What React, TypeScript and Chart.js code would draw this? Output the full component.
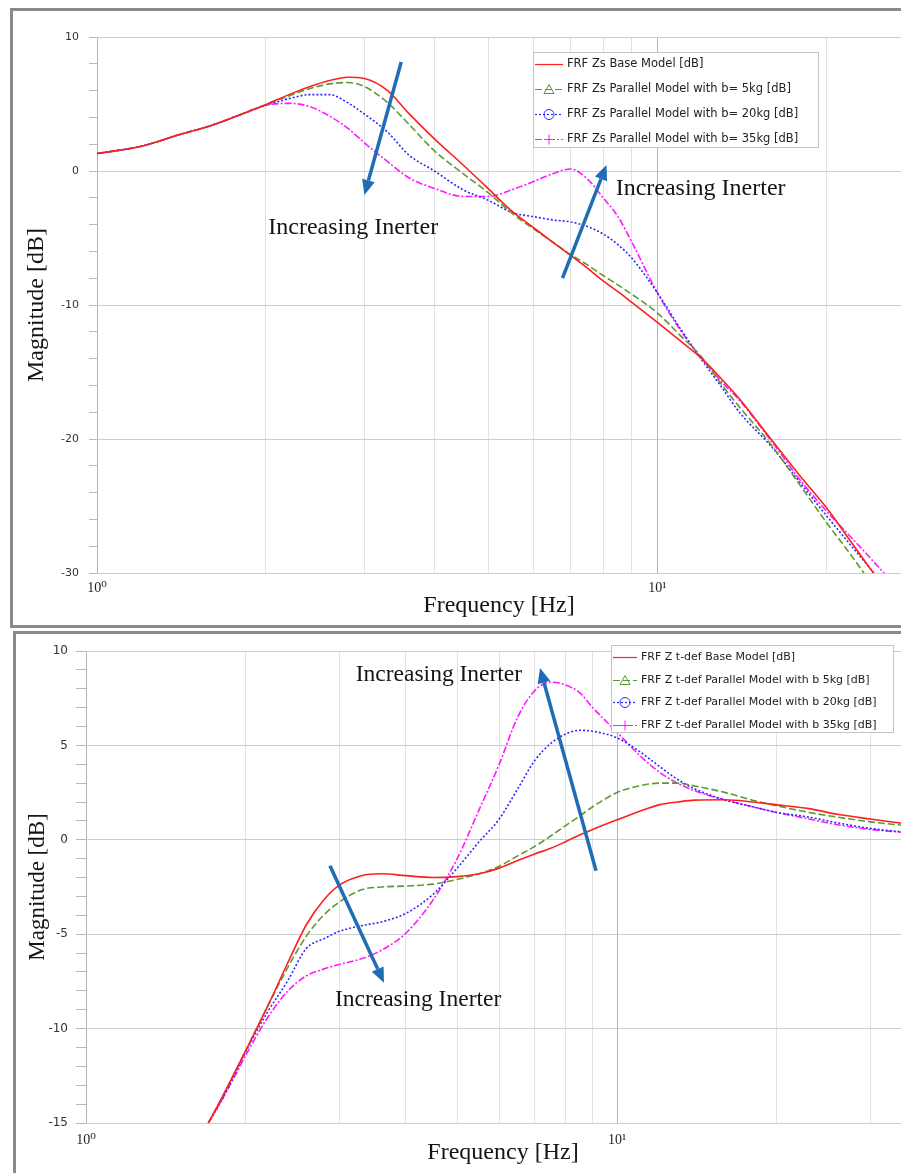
import React, { useEffect, useRef } from 'react';
import { Chart, registerables } from 'chart.js';

Chart.register(...registerables);

// ---------------- Top chart: FRF Zs ----------------
const topFreq = [1, 1.2, 1.4, 1.6, 1.8, 2, 2.2, 2.4, 2.6, 2.8, 3, 3.3, 3.6, 4, 4.5, 5, 5.5, 6, 6.5, 7, 7.5, 8, 8.5, 9, 10, 11, 12, 13, 14, 16, 18, 20, 22, 24, 26, 28];
const topBase = [1.3, 1.85, 2.7, 3.4, 4.2, 4.95, 5.7, 6.3, 6.75, 7.0, 6.9, 6.0, 4.3, 2.4, 0.45, -1.35, -3.0, -4.2, -5.3, -6.3, -7.25, -8.2, -9.0, -9.8, -11.3, -12.7, -14.0, -15.5, -17.0, -20.1, -22.8, -25.1, -27.5, -29.7, -31.6, -33.5];
const topB5 = [1.3, 1.85, 2.7, 3.4, 4.2, 4.95, 5.6, 6.15, 6.5, 6.6, 6.3, 5.1, 3.5, 1.5, -0.2, -1.65, -3.15, -4.3, -5.3, -6.25, -7.0, -7.8, -8.5, -9.2, -10.6, -12.3, -13.9, -15.9, -17.6, -20.5, -23.5, -26.2, -28.5, -30.7, -32.7, -34.6];
const topB20 = [1.3, 1.85, 2.7, 3.4, 4.2, 4.9, 5.4, 5.7, 5.7, 5.1, 4.25, 2.9, 1.2, 0.0, -1.4, -2.2, -3.1, -3.4, -3.65, -3.8, -4.15, -4.7, -5.5, -6.5, -9.1, -11.8, -14.1, -16.1, -18.0, -20.6, -23.3, -25.7, -27.8, -29.7, -31.5, -33.3];
const topB35 = [1.3, 1.85, 2.7, 3.4, 4.2, 4.9, 5.05, 4.8, 4.1, 3.2, 2.1, 0.7, -0.5, -1.3, -1.9, -1.9, -1.4, -0.8, -0.2, 0.15, -0.6, -2.0, -3.4, -5.3, -9.1, -11.9, -14.0, -15.7, -17.1, -20.2, -23.1, -25.35, -27.2, -28.9, -30.5, -32.0];
const topLabels = [
  'FRF Zs Base Model [dB]',
  'FRF Zs Parallel Model with b= 5kg [dB]',
  'FRF Zs Parallel Model with b= 20kg [dB]',
  'FRF Zs Parallel Model with b= 35kg [dB]',
];
const topGridFreq = [1, 2, 3, 4, 5, 6, 7, 8, 9, 10, 20];
const topYMajor = [-30, -20, -10, 0, 10];
// annotations: [freq, dB]
const topArrowFrom = [[3.49, 8.13], [6.77, -7.99]];
const topArrowTo = [[3.0, -1.79], [8.11, 0.45]];
const topNoteAt = [[2.865, -4.25], [11.94, -1.34]];

// ---------------- Bottom chart: FRF Z t-def ----------------
const botFreq = [1.7, 1.8, 1.9, 2.0, 2.2, 2.4, 2.6, 2.8, 3.0, 3.3, 3.6, 4.0, 4.5, 5.0, 5.5, 6.0, 6.5, 7.0, 7.5, 8.0, 8.5, 9.0, 10, 11, 12, 13, 14, 16, 18, 20, 23, 26, 30, 35];
const botBase = [-15, -13.7, -12.4, -11.15, -8.8, -6.5, -4.5, -3.2, -2.4, -1.9, -1.8, -1.9, -2.0, -1.95, -1.8, -1.5, -1.1, -0.75, -0.45, -0.1, 0.25, 0.55, 1.06, 1.5, 1.85, 2.0, 2.1, 2.12, 2.0, 1.85, 1.65, 1.35, 1.1, 0.85];
const botB5 = [-15, -13.7, -12.4, -11.15, -8.8, -6.75, -5.1, -4.0, -3.3, -2.65, -2.5, -2.45, -2.35, -2.1, -1.8, -1.4, -0.85, -0.35, 0.2, 0.75, 1.25, 1.75, 2.5, 2.85, 3.0, 3.0, 2.85, 2.5, 2.1, 1.8, 1.45, 1.2, 0.95, 0.75];
const botB20 = [-15, -13.8, -12.5, -11.2, -9.1, -7.45, -5.75, -5.25, -4.85, -4.55, -4.35, -3.9, -2.9, -1.5, -0.1, 1.1, 2.7, 4.2, 5.1, 5.6, 5.8, 5.75, 5.4, 4.7, 3.9, 3.2, 2.7, 2.1, 1.75, 1.45, 1.2, 0.9, 0.6, 0.4];
const botB35 = [-15, -13.8, -12.6, -11.4, -9.4, -8.0, -7.2, -6.85, -6.6, -6.3, -5.85, -4.95, -3.2, -1.0, 1.6, 4.0, 6.5, 7.9, 8.35, 8.2, 7.8, 7.0, 5.7, 4.5, 3.6, 3.0, 2.6, 2.1, 1.75, 1.45, 1.1, 0.8, 0.55, 0.38];
const botLabels = [
  'FRF Z t-def Base Model [dB]',
  'FRF Z t-def Parallel Model with b 5kg [dB]',
  'FRF Z t-def Parallel Model with b 20kg [dB]',
  'FRF Z t-def Parallel Model with b 35kg [dB]',
];
const botGridFreq = [1, 2, 3, 4, 5, 6, 7, 8, 9, 10, 20, 30];
const botYMajor = [-15, -10, -5, 0, 5, 10];
const botArrowFrom = [[9.13, -1.64], [2.88, -1.38]];
const botArrowTo = [[7.16, 9.1], [3.64, -7.57]];
const botNoteAt = [[4.62, 8.73], [4.22, -8.47]];

const noteText = 'Increasing Inerter';

// ---------------- styles ----------------
const COLORS = ['#ff1f1f', '#5c9a2e', '#2a2aff', '#ff1aff'];
const DASHES = [[], [7, 3], [2, 2], [7, 2, 2, 2]];
const MARKERS = ['none', 'triangle', 'circle', 'plus'];
const SERIF = '"Liberation Serif", "DejaVu Serif", serif';
const SANS = '"DejaVu Sans", sans-serif';
const ARROW_COLOR = '#1f6db4';

function range(a: number, b: number, step: number) {
  const out: number[] = [];
  for (let v = a; v <= b + 1e-9; v += step) out.push(Math.round(v * 1000) / 1000);
  return out;
}

function drawMarker(ctx: CanvasRenderingContext2D, kind: string, cx: number, cy: number, color: string) {
  ctx.save();
  ctx.setLineDash([]);
  ctx.strokeStyle = color;
  ctx.lineWidth = 1;
  ctx.beginPath();
  if (kind === 'triangle') {
    ctx.moveTo(cx, cy - 5);
    ctx.lineTo(cx + 5, cy + 4);
    ctx.lineTo(cx - 5, cy + 4);
    ctx.closePath();
  } else if (kind === 'circle') {
    ctx.arc(cx, cy, 5, 0, Math.PI * 2);
  } else if (kind === 'plus') {
    ctx.moveTo(cx, cy - 5);
    ctx.lineTo(cx, cy + 5);
    ctx.moveTo(cx - 5, cy);
    ctx.lineTo(cx + 5, cy);
  }
  ctx.stroke();
  ctx.restore();
}

function makeDecor(spec: any) {
  return {
    id: 'decor',
    afterDatasetsDraw(chart: any) {
      const ctx: CanvasRenderingContext2D = chart.ctx;
      const xs = chart.scales.x;
      const ys = chart.scales.y;
      ctx.save();
      // arrows
      spec.arrowFrom.forEach((fr: number[], i: number) => {
        const to = spec.arrowTo[i];
        const x1 = xs.getPixelForValue(fr[0]);
        const y1 = ys.getPixelForValue(fr[1]);
        const x2 = xs.getPixelForValue(to[0]);
        const y2 = ys.getPixelForValue(to[1]);
        const ang = Math.atan2(y2 - y1, x2 - x1);
        const headLen = 15;
        const headW = 6.5;
        const bx = x2 - headLen * Math.cos(ang);
        const by = y2 - headLen * Math.sin(ang);
        ctx.strokeStyle = ARROW_COLOR;
        ctx.fillStyle = ARROW_COLOR;
        ctx.lineWidth = 3.5;
        ctx.setLineDash([]);
        ctx.beginPath();
        ctx.moveTo(x1, y1);
        ctx.lineTo(bx, by);
        ctx.stroke();
        ctx.beginPath();
        ctx.moveTo(x2, y2);
        ctx.lineTo(bx + headW * Math.sin(ang), by - headW * Math.cos(ang));
        ctx.lineTo(bx - headW * Math.sin(ang), by + headW * Math.cos(ang));
        ctx.closePath();
        ctx.fill();
      });
      // notes
      ctx.fillStyle = '#141414';
      ctx.font = `${spec.noteSize}px ${SERIF}`;
      ctx.textAlign = 'center';
      ctx.textBaseline = 'middle';
      spec.noteAt.forEach((p: number[]) => {
        ctx.fillText(noteText, xs.getPixelForValue(p[0]), ys.getPixelForValue(p[1]));
      });
      // legend
      const L = spec.legend;
      ctx.fillStyle = '#ffffff';
      ctx.fillRect(L.left, L.top, L.width, L.height);
      ctx.strokeStyle = '#c4c4c4';
      ctx.lineWidth = 1;
      ctx.strokeRect(L.left + 0.5, L.top + 0.5, L.width, L.height);
      ctx.font = `${L.font}px ${SANS}`;
      ctx.textAlign = 'left';
      ctx.textBaseline = 'middle';
      chart.data.datasets.forEach((ds: any, i: number) => {
        const y = Math.round(L.rowTop + i * L.rowGap) + 0.5;
        ctx.strokeStyle = ds.borderColor;
        ctx.lineWidth = 1.2;
        ctx.setLineDash(ds.borderDash || []);
        ctx.beginPath();
        ctx.moveTo(L.sampleX, y);
        ctx.lineTo(L.sampleX + L.sampleW, y);
        ctx.stroke();
        ctx.setLineDash([]);
        drawMarker(ctx, MARKERS[i], L.sampleX + L.sampleW / 2, y, ds.borderColor);
        ctx.fillStyle = '#222';
        ctx.fillText(ds.label, L.textX, y);
      });
      ctx.restore();
    },
  };
}

function makeConfig(spec: any) {
  const datasets = spec.series.map((vals: number[], i: number) => ({
    label: spec.labels[i],
    data: spec.freq.map((f: number, k: number) => ({ x: f, y: vals[k] })),
    borderColor: COLORS[i],
    backgroundColor: COLORS[i],
    borderDash: DASHES[i],
    borderWidth: 1.6,
    pointRadius: 0,
    cubicInterpolationMode: 'monotone',
    fill: false,
  }));
  const isMajor = (v: number) => spec.yMajor.indexOf(v) >= 0;
  return {
    type: 'line',
    data: { datasets },
    plugins: [makeDecor(spec)],
    options: {
      responsive: false,
      animation: false,
      devicePixelRatio: 1,
      layout: { padding: { top: spec.padTop, right: 0, left: 0, bottom: 0 } },
      plugins: { legend: { display: false }, tooltip: { enabled: false } },
      scales: {
        x: {
          type: 'logarithmic',
          min: 1,
          max: spec.xMax,
          afterBuildTicks: (s: any) => {
            s.ticks = spec.gridFreq.map((v: number) => ({ value: v }));
          },
          afterFit: (s: any) => {
            s.height = spec.xAxisHeight;
          },
          ticks: {
            autoSkip: false,
            maxRotation: 0,
            minRotation: 0,
            padding: spec.xTickPad,
            color: '#222',
            font: { family: SERIF, size: 14 },
            callback: (v: number) => (v === 1 ? '10⁰' : v === 10 ? '10¹' : ''),
          },
          grid: {
            color: (c: any) => (c.tick && (c.tick.value === 1 || c.tick.value === 10) ? '#b4b4b4' : '#e2e2e2'),
            drawTicks: false,
            lineWidth: 1,
          },
          border: { display: false },
          title: {
            display: true,
            text: 'Frequency [Hz]',
            color: '#141414',
            font: { family: SERIF, size: spec.xTitleSize },
            padding: { top: 0, bottom: spec.xTitlePad },
          },
        },
        y: {
          type: 'linear',
          min: spec.yMin,
          max: spec.yMax,
          afterBuildTicks: (s: any) => {
            s.ticks = range(spec.yMin, spec.yMax, spec.yMinorStep).map((v) => ({ value: v }));
          },
          afterFit: (s: any) => {
            s.width = spec.yAxisWidth;
          },
          ticks: {
            autoSkip: false,
            padding: spec.yTickPad,
            color: '#333',
            font: { family: SANS, size: spec.yTickSize },
            callback: (v: number) => (isMajor(v) ? String(v) : ''),
          },
          grid: {
            color: (c: any) => (c.tick && isMajor(c.tick.value) ? '#cdcdcd' : 'rgba(0,0,0,0)'),
            tickColor: '#b8b8b8',
            tickLength: spec.yTickLen,
            drawTicks: true,
            lineWidth: 1,
          },
          border: { display: false },
          title: {
            display: true,
            text: 'Magnitude [dB]',
            color: '#141414',
            font: { family: SERIF, size: spec.yTitleSize },
            padding: { top: spec.yTitlePad, bottom: 0 },
          },
        },
      },
    },
  };
}

const TOP_SPEC = {
  freq: topFreq,
  series: [topBase, topB5, topB20, topB35],
  labels: topLabels,
  gridFreq: topGridFreq,
  yMajor: topYMajor,
  xMax: 27.2,
  yMin: -30,
  yMax: 10,
  yMinorStep: 2,
  padTop: 26,
  yAxisWidth: 84,
  xAxisHeight: 52,
  xTickPad: 7,
  yTickPad: 10,
  yTickLen: 8,
  yTickSize: 11,
  xTitleSize: 24,
  xTitlePad: 4.6,
  yTitleSize: 24,
  yTitlePad: 9.6,
  noteSize: 24,
  arrowFrom: topArrowFrom,
  arrowTo: topArrowTo,
  noteAt: topNoteAt,
  legend: { left: 520, top: 41, width: 285, height: 95, rowTop: 53, rowGap: 25, sampleX: 522, sampleW: 28, textX: 554, font: 11.5 },
};

const BOT_SPEC = {
  freq: botFreq,
  series: [botBase, botB5, botB20, botB35],
  labels: botLabels,
  gridFreq: botGridFreq,
  yMajor: botYMajor,
  xMax: 37.2,
  yMin: -15,
  yMax: 10,
  yMinorStep: 1,
  padTop: 17,
  yAxisWidth: 70,
  xAxisHeight: 50,
  xTickPad: 9,
  yTickPad: 8,
  yTickLen: 10,
  yTickSize: 12,
  xTitleSize: 24,
  xTitlePad: 5.6,
  yTitleSize: 23,
  yTitlePad: 8.2,
  noteSize: 23.5,
  arrowFrom: botArrowFrom,
  arrowTo: botArrowTo,
  noteAt: botNoteAt,
  legend: { left: 595, top: 11, width: 282, height: 87, rowTop: 23, rowGap: 22.7, sampleX: 597, sampleW: 24, textX: 625, font: 11 },
};

export default function App() {
  const topRef = useRef<HTMLCanvasElement>(null);
  const botRef = useRef<HTMLCanvasElement>(null);
  useEffect(() => {
    const c1 = new Chart(topRef.current as HTMLCanvasElement, makeConfig(TOP_SPEC) as any);
    const c2 = new Chart(botRef.current as HTMLCanvasElement, makeConfig(BOT_SPEC) as any);
    return () => {
      c1.destroy();
      c2.destroy();
    };
  }, []);
  return (
    <div style={{ position: 'absolute', left: 0, top: 0, width: 901, height: 1173, overflow: 'hidden', background: '#fff' }}>
      <div
        style={{
          position: 'absolute',
          left: 10,
          top: 8,
          width: 920,
          height: 620,
          border: '3px solid #8a8a8a',
          boxSizing: 'border-box',
          background: '#fff',
        }}
      >
        <canvas ref={topRef} width={888} height={614} style={{ position: 'absolute', left: 0, top: 0, display: 'block' }} />
      </div>
      <div
        style={{
          position: 'absolute',
          left: 13,
          top: 631,
          width: 940,
          height: 580,
          border: '3px solid #8a8a8a',
          boxSizing: 'border-box',
          background: '#fff',
        }}
      >
        <canvas ref={botRef} width={904} height={539} style={{ position: 'absolute', left: 0, top: 0, display: 'block' }} />
      </div>
    </div>
  );
}
